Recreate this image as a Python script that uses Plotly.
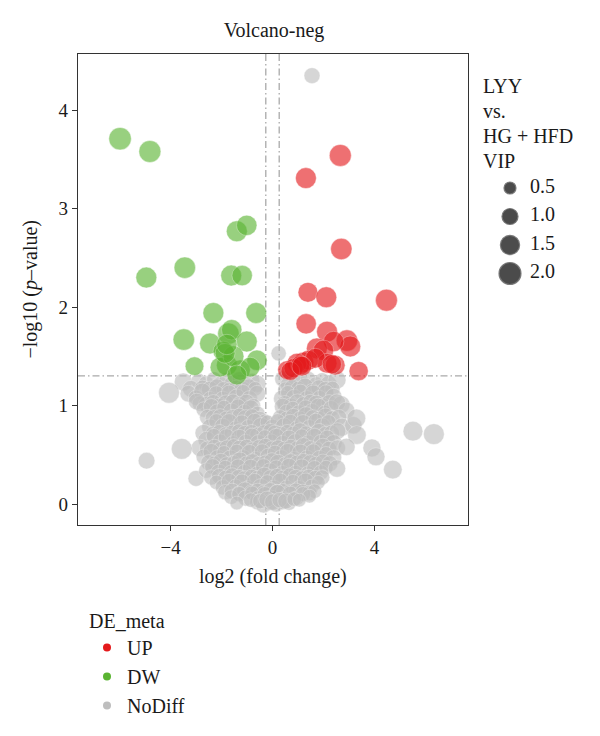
import plotly.graph_objects as go

# ---------------- data ----------------
up_x = [2.66, 1.31, 2.70, 1.39, 2.11, 4.47, 1.32, 2.14, 2.92, 3.05, 2.40, 1.74, 2.00,
        2.14, 2.46, 3.38, 1.22, 1.41, 0.96, 0.57, 0.83, 1.68, 2.33, 1.09, 0.70, 1.15]
up_y = [3.54, 3.31, 2.59, 2.15, 2.10, 2.07, 1.83, 1.75, 1.66, 1.60, 1.65, 1.58, 1.56,
        1.43, 1.41, 1.35, 1.44, 1.46, 1.43, 1.36, 1.38, 1.48, 1.42, 1.41, 1.35, 1.40]
up_vip = [2.0, 1.8, 1.9, 1.6, 1.8, 2.0, 1.7, 1.8, 1.9, 1.8, 1.7, 1.8, 1.7,
          1.6, 1.6, 1.5, 1.7, 1.6, 1.6, 1.4, 1.5, 1.6, 1.5, 1.5, 1.4, 1.6]

dw_x = [-5.98, -4.81, -1.40, -1.01, -4.95, -3.44, -1.62, -1.19, -2.32, -0.64, -3.48, -3.06, -2.45,
        -1.73, -1.60, -1.01, -1.93, -0.61, -1.79, -1.27, -0.88, -2.06, -1.53, -1.40, -1.86, -1.79]
dw_y = [3.71, 3.58, 2.77, 2.83, 2.30, 2.40, 2.32, 2.32, 1.94, 1.94, 1.67, 1.40, 1.63,
        1.73, 1.77, 1.65, 1.55, 1.46, 1.41, 1.36, 1.39, 1.39, 1.50, 1.31, 1.53, 1.62]
dw_vip = [2.1, 2.0, 1.8, 1.7, 1.8, 1.9, 1.8, 1.7, 1.8, 1.8, 1.9, 1.4, 1.8,
          1.9, 1.7, 1.8, 1.7, 1.7, 1.8, 1.7, 1.6, 1.6, 1.8, 1.6, 1.6, 1.7]

nodiff_x = [
    -3.50, -2.90, -2.60, -2.30, -2.05, -1.80, -1.55, -1.30, -1.05, -0.80, -0.58,
    0.40, 0.65, 0.90, 1.15, 1.40, 1.70, 1.95, 2.20, 2.53, 0.24,
    -3.20, -2.75, -2.45, -2.18, -1.92, -1.68, -1.42, -1.18, -0.92, -0.68,
    0.52, 0.78, 1.02, 1.28, 1.55, 1.82, 2.08, 2.35,
    -4.06, -3.30, -3.00, -2.75, -2.45, -2.20, -1.95, -1.70, -1.40, -1.15, -0.90, -0.60,
    0.38, 0.60, 0.85, 1.10, 1.35, 1.60, 1.85, 2.10, 2.40,
    -2.85, -2.58, -2.32, -2.08, -1.82, -1.55, -1.28, -1.02, -0.75,
    0.48, 0.72, 0.98, 1.22, 1.48, 1.72, 1.98, 2.22, 2.70,
    -2.97, -2.70, -2.40, -2.15, -1.90, -1.60, -1.35, -1.10, -0.85, -0.58,
    0.40, 0.55, 0.80, 1.05, 1.30, 1.55, 1.80, 2.05, 2.30, 2.53, 2.90,
    -2.55, -2.30, -2.05, -1.80, -1.55, -1.30, -1.05, -0.80, -0.50, -0.30,
    0.30, 0.58, 0.82, 1.08, 1.32, 1.58, 1.82, 2.08, 2.35, 2.60,
    -2.45, -2.20, -1.95, -1.70, -1.45, -1.20, -0.95, -0.70, -0.45, -0.20,
    0.00, 0.20, 0.45, 0.70, 0.95, 1.20, 1.45, 1.70, 1.95, 2.20, 2.73, 3.17, 3.29,
    -2.70, -2.32, -2.08, -1.82, -1.58, -1.32, -1.08, -0.82, -0.58, -0.32, -0.08,
    0.10, 0.32, 0.58, 0.82, 1.08, 1.32, 1.58, 1.82, 2.08, 2.32, 2.55,
    -2.58, -2.30, -2.05, -1.80, -1.55, -1.30, -1.05, -0.80, -0.55, -0.30, -0.05,
    0.15, 0.40, 0.65, 0.90, 1.15, 1.40, 1.65, 1.90, 2.15, 2.40, 3.31,
    -2.85, -2.55, -2.28, -2.02, -1.78, -1.52, -1.28, -1.02, -0.78, -0.52, -0.28, -0.02,
    0.22, 0.48, 0.72, 0.98, 1.22, 1.48, 1.72, 1.98, 2.22, 2.55,
    -3.56, -2.70, -2.40, -2.15, -1.90, -1.65, -1.40, -1.15, -0.90, -0.65, -0.40, -0.15,
    0.10, 0.35, 0.60, 0.85, 1.10, 1.35, 1.60, 1.85, 2.10, 2.40, 2.90, 3.90, 4.06,
    -2.50, -2.28, -2.02, -1.78, -1.52, -1.28, -1.02, -0.78, -0.52, -0.28, -0.02,
    0.22, 0.48, 0.72, 0.98, 1.22, 1.48, 1.72, 1.98, 2.25,
    -3.00, -2.60, -2.35, -2.10, -1.85, -1.60, -1.35, -1.10, -0.85, -0.60, -0.35, -0.10,
    0.15, 0.40, 0.65, 0.90, 1.15, 1.40, 1.65, 1.90, 2.10, 2.53, 4.72,
    -2.40, -2.08, -1.82, -1.58, -1.32, -1.08, -0.82, -0.58, -0.32, -0.08,
    0.18, 0.42, 0.68, 0.92, 1.18, 1.42, 1.68, 1.95,
    -2.20, -1.95, -1.70, -1.45, -1.20, -0.95, -0.70, -0.45, -0.20,
    0.05, 0.30, 0.55, 0.80, 1.05, 1.30, 1.55, 1.80,
    -1.85, -1.58, -1.32, -1.08, -0.82, -0.58, -0.32, -0.08,
    0.18, 0.42, 0.68, 0.92, 1.18, 1.45, 1.65,
    -1.62, -1.30, -1.05, -0.80, -0.55, -0.30, -0.05, 0.20, 0.45, 0.70, 0.95, 1.20, 1.45,
    -1.40, -0.60, -0.35, -0.10, 0.15, 0.40, 0.65,
    -0.85, -0.48, -0.22, 0.02, 0.28, 0.52, 0.85, 1.05,
    1.55, 5.51, 6.33, -4.94,
]
nodiff_y = [
    1.24, 1.25, 1.22, 1.27, 1.21, 1.26, 1.22, 1.27, 1.21, 1.25, 1.22,
    1.27, 1.21, 1.26, 1.22, 1.27, 1.21, 1.26, 1.22, 1.26, 1.53,
    1.17, 1.18, 1.16, 1.19, 1.17, 1.15, 1.18, 1.16, 1.19, 1.17,
    1.16, 1.18, 1.17, 1.19, 1.15, 1.18, 1.16, 1.17,
    1.13, 1.12, 1.08, 1.14, 1.07, 1.12, 1.06, 1.13, 1.08, 1.14, 1.07, 1.12,
    1.07, 1.13, 1.08, 1.14, 1.07, 1.12, 1.08, 1.13, 1.09,
    1.02, 1.01, 1.03, 1.00, 1.02, 1.04, 1.01, 1.03, 1.00,
    1.02, 1.00, 1.03, 1.01, 1.04, 1.02, 1.00, 1.03, 1.01,
    1.04, 0.96, 0.99, 0.93, 0.98, 0.94, 0.99, 0.93, 0.97, 0.92,
    0.99, 0.93, 0.97, 0.92, 0.98, 0.94, 0.99, 0.93, 0.97, 1.03, 0.95,
    0.88, 0.87, 0.89, 0.86, 0.88, 0.90, 0.87, 0.89, 0.86, 0.84,
    0.88, 0.86, 0.89, 0.87, 0.90, 0.88, 0.86, 0.89, 0.87, 0.88,
    0.78, 0.84, 0.79, 0.83, 0.77, 0.82, 0.78, 0.84, 0.79, 0.83,
    0.78, 0.84, 0.79, 0.83, 0.77, 0.82, 0.78, 0.84, 0.79, 0.83, 0.78, 0.80, 0.87,
    0.72, 0.71, 0.73, 0.70, 0.72, 0.74, 0.71, 0.73, 0.70, 0.72, 0.74,
    0.72, 0.70, 0.73, 0.71, 0.74, 0.72, 0.70, 0.73, 0.71, 0.72, 0.74,
    0.65, 0.69, 0.63, 0.68, 0.62, 0.67, 0.63, 0.69, 0.62, 0.68, 0.63,
    0.68, 0.62, 0.67, 0.63, 0.69, 0.62, 0.68, 0.63, 0.67, 0.62, 0.70,
    0.57, 0.56, 0.58, 0.55, 0.57, 0.59, 0.56, 0.58, 0.55, 0.57, 0.59, 0.56,
    0.57, 0.55, 0.58, 0.56, 0.59, 0.57, 0.55, 0.58, 0.56, 0.57,
    0.56, 0.48, 0.53, 0.47, 0.52, 0.46, 0.53, 0.47, 0.52, 0.46, 0.53, 0.48,
    0.52, 0.47, 0.53, 0.46, 0.52, 0.47, 0.53, 0.46, 0.51, 0.47, 0.58, 0.57, 0.48,
    0.42, 0.41, 0.43, 0.40, 0.42, 0.44, 0.41, 0.43, 0.40, 0.42, 0.44,
    0.42, 0.40, 0.43, 0.41, 0.44, 0.42, 0.40, 0.43, 0.41,
    0.26, 0.34, 0.38, 0.32, 0.37, 0.31, 0.38, 0.32, 0.37, 0.31, 0.38, 0.33,
    0.37, 0.31, 0.38, 0.32, 0.37, 0.31, 0.36, 0.32, 0.37, 0.36, 0.35,
    0.27, 0.28, 0.26, 0.29, 0.27, 0.25, 0.28, 0.26, 0.29, 0.27,
    0.28, 0.26, 0.29, 0.27, 0.25, 0.28, 0.26, 0.27,
    0.22, 0.17, 0.23, 0.18, 0.22, 0.16, 0.23, 0.17, 0.22,
    0.16, 0.23, 0.17, 0.22, 0.16, 0.23, 0.18, 0.22,
    0.12, 0.13, 0.11, 0.14, 0.12, 0.13, 0.11, 0.14,
    0.12, 0.13, 0.11, 0.14, 0.12, 0.11, 0.13,
    0.07, 0.10, 0.06, 0.11, 0.05, 0.10, 0.06, 0.11, 0.05, 0.10, 0.06, 0.10, 0.08,
    0.01, 0.02, -0.01, 0.02, 0.00, 0.02, 0.01,
    0.04, 0.03, 0.05, 0.02, 0.04, 0.03, 0.05, 0.04,
    4.35, 0.74, 0.71, 0.44,
]
nodiff_vip = [
    1.3, 0.9, 1.0, 0.8, 1.1, 0.9, 1.2, 0.8, 1.0, 0.9, 1.1,
    1.0, 1.2, 0.8, 1.1, 0.9, 1.0, 0.8, 1.1, 1.3, 0.9,
    1.1, 0.9, 1.2, 1.0, 0.8, 1.1, 0.9, 1.2, 1.0, 0.8,
    1.0, 1.1, 0.9, 1.2, 0.8, 1.0, 1.1, 0.9,
    1.8, 1.1, 0.9, 1.2, 0.8, 1.0, 1.1, 0.9, 1.2, 0.8, 1.0, 1.1,
    1.2, 0.8, 1.1, 0.9, 1.0, 1.2, 0.8, 1.0, 1.1,
    0.9, 1.1, 1.0, 0.8, 1.2, 0.9, 1.0, 1.1, 0.8,
    1.0, 0.9, 1.2, 1.0, 0.8, 1.1, 0.9, 1.0, 1.2,
    1.1, 0.9, 1.0, 1.2, 0.8, 1.1, 0.9, 1.0, 1.2, 0.8,
    1.1, 1.0, 0.8, 1.2, 0.9, 1.0, 1.1, 0.8, 1.0, 1.2, 1.1,
    1.0, 1.2, 0.9, 1.1, 1.0, 0.8, 1.2, 0.9, 1.0, 0.8,
    0.9, 1.1, 1.0, 0.8, 1.2, 0.9, 1.0, 1.1, 0.9, 1.0,
    1.1, 0.9, 1.0, 1.2, 0.8, 1.1, 0.9, 1.0, 1.2, 0.8,
    1.0, 0.9, 1.1, 1.0, 0.8, 1.2, 0.9, 1.0, 1.1, 0.9, 1.3, 1.2, 1.4,
    1.2, 1.0, 0.9, 1.1, 1.0, 0.8, 1.2, 0.9, 1.0, 1.1, 0.9,
    1.0, 1.2, 0.9, 1.0, 1.1, 0.8, 1.0, 1.2, 0.9, 1.0, 1.1,
    1.2, 0.9, 1.0, 1.1, 0.8, 1.2, 0.9, 1.0, 1.1, 0.8, 1.0,
    1.2, 0.9, 1.0, 1.1, 0.8, 1.0, 1.2, 0.9, 1.0, 1.1, 1.4,
    1.2, 1.0, 0.9, 1.1, 1.0, 0.8, 1.2, 0.9, 1.0, 1.1, 0.9, 1.0,
    1.0, 1.2, 0.9, 1.0, 1.1, 0.8, 1.0, 1.2, 0.9, 1.0,
    1.8, 0.9, 1.1, 1.0, 0.8, 1.2, 0.9, 1.0, 1.1, 0.8, 1.0, 1.2,
    0.9, 1.0, 1.1, 0.8, 1.2, 0.9, 1.0, 1.1, 0.8, 1.0, 1.2, 1.3, 1.3,
    1.0, 0.9, 1.1, 1.0, 0.8, 1.2, 0.9, 1.0, 1.1, 0.9, 1.0,
    1.1, 0.9, 1.0, 1.2, 0.8, 1.0, 1.1, 0.9, 1.0,
    1.0, 0.9, 1.0, 1.1, 0.8, 1.2, 0.9, 1.0, 1.1, 0.8, 1.0, 1.2,
    0.9, 1.0, 1.1, 0.8, 1.2, 0.9, 1.0, 0.9, 0.8, 1.2, 1.4,
    0.9, 1.0, 1.1, 0.9, 1.0, 1.2, 0.8, 1.0, 1.1, 0.9,
    1.0, 1.1, 0.9, 1.0, 1.2, 0.8, 1.0, 0.9,
    0.8, 0.9, 1.0, 0.8, 1.1, 0.9, 1.0, 1.2, 0.9,
    1.0, 1.1, 0.8, 1.0, 0.9, 1.1, 0.8, 0.7,
    0.9, 1.0, 0.8, 1.1, 0.9, 1.0, 1.1, 0.9,
    1.0, 0.9, 1.1, 0.8, 1.0, 0.9, 0.8,
    0.8, 0.9, 1.0, 0.8, 1.1, 0.9, 1.0, 1.2, 0.9, 1.0, 0.8, 0.9, 0.7,
    0.7, 0.9, 1.0, 1.1, 1.0, 0.9, 0.8,
    0.8, 0.9, 1.0, 1.1, 0.9, 1.0, 0.8, 0.7,
    1.0, 1.6, 1.8, 1.1,
]

vip_legend = [0.5, 1.0, 1.5, 2.0]
fc_cut = 0.263          # log2(1.2)
p_cut = 1.301           # -log10(0.05)

# ---------------- styling ----------------
FONT = "Liberation Serif"
TXT = "#1a1a1a"
RED, GREEN, GREY = "#E41A1C", "#5AB432", "#BEBEBE"
ALPHA = 0.62


def diam(v):
    return (30.7 + 226.7 * v) ** 0.5


W, H = 600, 736
ML, MR, MT, MB = 78, 10, 54, 211
PW = W - ML - MR
PH = H - MT - MB
plot_right = 467.5


def px_x(p):
    return (p - ML) / PW


def px_y(p):
    return (H - MB - p) / PH


fig = go.Figure()

for xs, ys, vs, col, name in [
    (nodiff_x, nodiff_y, nodiff_vip, GREY, "NoDiff"),
    (dw_x, dw_y, dw_vip, GREEN, "DW"),
    (up_x, up_y, up_vip, RED, "UP"),
]:
    fig.add_trace(go.Scatter(
        x=xs, y=ys, mode="markers", name=name, showlegend=False,
        marker=dict(size=[diam(v) for v in vs], color=col, opacity=ALPHA,
                    line=dict(width=1, color="rgba(255,255,255,0.45)")),
        hoverinfo="x+y",
    ))

# colour legend entries (DE_meta)
for name, col in [("UP", RED), ("DW", GREEN), ("NoDiff", GREY)]:
    fig.add_trace(go.Scatter(
        x=[None], y=[None], mode="markers", name=name, legendgroup=name,
        marker=dict(size=8, color=col), showlegend=True,
    ))

# size legend (VIP) drawn on an auxiliary hidden axis
fig.add_trace(go.Scatter(
    x=[20] * len(vip_legend), y=vip_legend, mode="markers",
    xaxis="x2", yaxis="y2", showlegend=False, hoverinfo="skip",
    marker=dict(size=[diam(v) for v in vip_legend], color="#000000",
                line=dict(width=1.2, color="rgba(60,60,60,0.9)")),
))
fig.add_trace(go.Scatter(
    x=[40] * len(vip_legend), y=vip_legend, mode="text",
    text=[f"{v:.1f}" for v in vip_legend], textposition="middle right",
    textfont=dict(family=FONT, size=20, color=TXT),
    xaxis="x2", yaxis="y2", showlegend=False, hoverinfo="skip",
))

dash = "7px,3px,1.5px,3px"
line_style = dict(color="#A9A9A9", width=1.3, dash=dash)
for xv in (-fc_cut, fc_cut):
    fig.add_shape(type="line", xref="x", yref="y domain", x0=xv, x1=xv, y0=0, y1=1,
                  line=line_style, layer="below")
fig.add_shape(type="line", xref="x domain", yref="y", x0=0, x1=1, y0=p_cut, y1=p_cut,
              line=line_style, layer="below")

axis_common = dict(
    showline=True, mirror=True, linecolor="#333333", linewidth=1.3,
    ticks="outside", ticklen=5, tickwidth=1.2, tickcolor="#333333",
    showgrid=False, zeroline=False,
    tickfont=dict(family=FONT, size=19, color=TXT),
)

fig.update_layout(
    width=W, height=H,
    margin=dict(l=ML, r=MR, t=MT, b=MB, autoexpand=False),
    paper_bgcolor="white", plot_bgcolor="white",
    font=dict(family=FONT, size=20, color=TXT),
    title=dict(text="Volcano-neg", x=px_x(274), xref="paper", xanchor="center",
               y=1 - 30 / H, yref="container", yanchor="middle",
               font=dict(family=FONT, size=20, color=TXT)),
    xaxis=dict(domain=[0, px_x(plot_right)], range=[-7.63, 7.65],
               tickvals=[-4, 0, 4], **axis_common),
    yaxis=dict(range=[-0.213, 4.57], tickvals=[0, 1, 2, 3, 4], **axis_common),
    xaxis2=dict(domain=[px_x(490), 1.0], range=[0, 100], visible=False,
                anchor="y2", fixedrange=True),
    yaxis2=dict(domain=[px_y(290.6), px_y(170.9)], range=[2.3, 0.2], visible=False,
                anchor="x2", fixedrange=True),
    legend=dict(
        title=dict(text="DE_meta", font=dict(family=FONT, size=20, color=TXT)),
        font=dict(family=FONT, size=20, color=TXT),
        xref="container", yref="container",
        x=87 / W, xanchor="left", y=1 - 602 / H, yanchor="top",
        itemsizing="trace", tracegroupgap=0, bgcolor="rgba(0,0,0,0)",
    ),
    showlegend=True,
)

# axis titles
fig.add_annotation(text="log2 (fold change)", xref="paper", yref="paper",
                   x=px_x(272.5), y=px_y(576), xanchor="center", yanchor="middle",
                   showarrow=False, font=dict(family=FONT, size=20, color=TXT))
fig.add_annotation(text="−log10 (<i>p</i>–value)", xref="paper", yref="paper",
                   x=px_x(30), y=px_y(289.5), xanchor="center", yanchor="middle",
                   textangle=-90, showarrow=False,
                   font=dict(family=FONT, size=20, color=TXT))

for txt, py in [("LYY", 86), ("vs.", 111), ("HG + HFD", 136), ("VIP", 161)]:
    fig.add_annotation(text=txt, xref="paper", yref="paper", x=px_x(481), y=px_y(py),
                       xanchor="left", yanchor="middle", showarrow=False,
                       font=dict(family=FONT, size=20, color=TXT))

fig.write_html("out.html")
